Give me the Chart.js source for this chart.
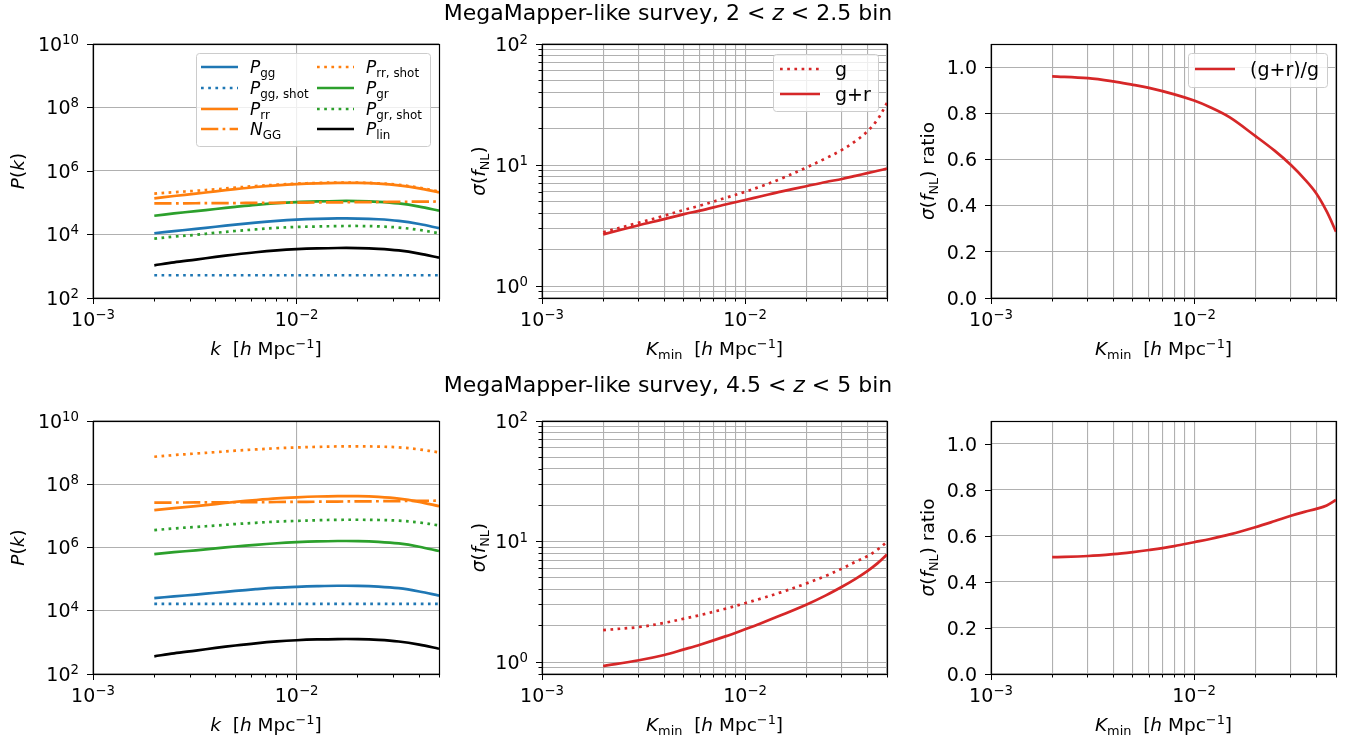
<!DOCTYPE html>
<html>
<head>
<meta charset="utf-8">
<title>MegaMapper-like survey</title>
<script src="https://cdn.jsdelivr.net/npm/chart.js@4.4.1/dist/chart.umd.min.js"></script>
<style>
  body { margin: 0; background: #fff; width: 1350px; height: 742px; position: relative; overflow: hidden; }
  canvas { position: absolute; left: 0; top: 0; }
</style>
</head>
<body>
<canvas id="pkTop" width="1350" height="742"></canvas>
<canvas id="sigTop" width="1350" height="742"></canvas>
<canvas id="ratTop" width="1350" height="742"></canvas>
<canvas id="pkBot" width="1350" height="742"></canvas>
<canvas id="sigBot" width="1350" height="742"></canvas>
<canvas id="ratBot" width="1350" height="742"></canvas>
<script>
// k grid of the power spectra panels [h/Mpc]
var kP = [0.002, 0.0025, 0.0032, 0.004, 0.005, 0.0063, 0.008, 0.01, 0.0126, 0.0159, 0.02, 0.0252, 0.0317, 0.04, 0.05];

// 2 < z < 2.5 bin
var PggTop      = [1.096e4, 1.282e4, 1.500e4, 1.754e4, 2.046e4, 2.366e4, 2.685e4, 2.931e4, 3.105e4, 3.199e4, 3.184e4, 3.020e4, 2.679e4, 2.138e4, 1.578e4];
var PggShotTop  = [520, 520, 520, 520, 520, 520, 520, 520, 520, 520, 520, 520, 520, 520, 520];
var PrrTop      = [1.380e5, 1.633e5, 1.932e5, 2.286e5, 2.698e5, 3.133e5, 3.540e5, 3.864e5, 4.093e5, 4.217e5, 4.198e5, 3.981e5, 3.532e5, 2.851e5, 2.128e5];
var NGGTop      = [9.55e4, 9.59e4, 9.66e4, 9.73e4, 9.79e4, 9.89e4, 9.98e4, 1.007e5, 1.019e5, 1.030e5, 1.042e5, 1.054e5, 1.069e5, 1.084e5, 1.096e5];
var PrrShotTop  = [1.950e5, 2.153e5, 2.377e5, 2.655e5, 2.992e5, 3.357e5, 3.707e5, 3.999e5, 4.207e5, 4.315e5, 4.295e5, 4.093e5, 3.656e5, 2.985e5, 2.254e5];
var PgrTop      = [3.890e4, 4.603e4, 5.445e4, 6.368e4, 7.430e4, 8.630e4, 9.750e4, 1.052e5, 1.102e5, 1.135e5, 1.130e5, 1.072e5, 9.506e4, 7.586e4, 5.598e4];
var PgrShotTop  = [7.41e3, 8.57e3, 9.80e3, 1.132e4, 1.291e4, 1.449e4, 1.618e4, 1.726e4, 1.786e4, 1.841e4, 1.854e4, 1.799e4, 1.652e4, 1.396e4, 1.091e4];
var PlinTop     = [1072, 1327, 1626, 1968, 2350, 2761, 3155, 3443, 3648, 3758, 3741, 3548, 3148, 2512, 1854];

// 4.5 < z < 5 bin
var PggBot      = [2.512e4, 2.838e4, 3.243e4, 3.707e4, 4.227e4, 4.797e4, 5.358e4, 5.715e4, 5.984e4, 6.166e4, 6.138e4, 5.821e4, 5.164e4, 4.074e4, 3.006e4];
var PggShotBot  = [1.66e4, 1.66e4, 1.66e4, 1.66e4, 1.66e4, 1.66e4, 1.66e4, 1.66e4, 1.66e4, 1.66e4, 1.66e4, 1.66e4, 1.66e4, 1.66e4, 1.66e4];
var PrrBot      = [1.514e7, 1.750e7, 2.046e7, 2.366e7, 2.761e7, 3.170e7, 3.581e7, 3.864e7, 4.093e7, 4.217e7, 4.198e7, 3.981e7, 3.532e7, 2.786e7, 2.032e7];
var NGGBot      = [2.630e7, 2.642e7, 2.661e7, 2.679e7, 2.698e7, 2.723e7, 2.748e7, 2.773e7, 2.805e7, 2.838e7, 2.871e7, 2.904e7, 2.944e7, 2.985e7, 3.020e7];
var PrrShotBot  = [7.413e8, 8.375e8, 9.354e8, 1.033e9, 1.151e9, 1.262e9, 1.377e9, 1.452e9, 1.521e9, 1.567e9, 1.578e9, 1.549e9, 1.472e9, 1.259e9, 1.019e9];
var PgrBot      = [6.166e5, 7.129e5, 8.147e5, 9.419e5, 1.074e6, 1.219e6, 1.361e6, 1.469e6, 1.556e6, 1.603e6, 1.596e6, 1.514e6, 1.343e6, 1.059e6, 7.727e5];
var PgrShotBot  = [3.548e6, 4.009e6, 4.477e6, 4.943e6, 5.508e6, 6.039e6, 6.592e6, 6.950e6, 7.278e6, 7.499e6, 7.551e6, 7.413e6, 7.047e6, 6.166e6, 4.989e6];
var PlinBot     = [363, 450, 551, 667, 796, 935, 1069, 1167, 1236, 1274, 1268, 1202, 1067, 851, 628];

// K_min grid of the forecast panels
var kF = [0.002, 0.003, 0.004, 0.005, 0.006, 0.008, 0.01, 0.012, 0.015, 0.02, 0.025, 0.03, 0.035, 0.04, 0.045, 0.05];
var sigGTop   = [2.79, 3.35, 3.82, 4.27, 4.63, 5.36, 6.02, 6.69, 7.72, 9.54, 11.4, 13.35, 15.8, 19.0, 23.9, 32.6];
var sigGRTop  = [2.68, 3.19, 3.58, 3.94, 4.21, 4.73, 5.15, 5.53, 6.04, 6.70, 7.26, 7.69, 8.15, 8.59, 8.98, 9.35];
var ratioTop  = [0.960, 0.952, 0.938, 0.923, 0.910, 0.882, 0.855, 0.826, 0.782, 0.702, 0.637, 0.576, 0.515, 0.453, 0.375, 0.287];
var sigGBot   = [1.85, 1.96, 2.12, 2.30, 2.46, 2.78, 3.09, 3.38, 3.80, 4.50, 5.21, 5.98, 6.81, 7.57, 8.61, 9.98];
var sigGRBot  = [0.93, 1.04, 1.15, 1.28, 1.40, 1.64, 1.88, 2.11, 2.45, 3.00, 3.59, 4.23, 4.92, 5.70, 6.64, 7.82];
var ratioBot  = [0.508, 0.513, 0.521, 0.530, 0.539, 0.556, 0.573, 0.587, 0.607, 0.638, 0.665, 0.688, 0.705, 0.718, 0.733, 0.757];

// axis ticks
var kMajor = [1e-3, 1e-2];
var kMinor = [2e-3, 3e-3, 4e-3, 5e-3, 6e-3, 7e-3, 8e-3, 9e-3, 2e-2, 3e-2, 4e-2, 5e-2];
var pMajor = [1e2, 1e4, 1e6, 1e8, 1e10];
var sigMajor = [1, 10, 100];
var sigMinor = [0.8, 0.9, 2, 3, 4, 5, 6, 7, 8, 9, 20, 30, 40, 50, 60, 70, 80, 90];
var ratioTicks = [0, 0.2, 0.4, 0.6, 0.8, 1.0];

// colours and line styles
var cBlue = '#1f77b4', cOrange = '#ff7f0e', cGreen = '#2ca02c', cRed = '#d62728';
var LW = 2.7;
var dotted = [2.7, 4.5], dashdot = [17.3, 4.3, 2.7, 4.3];

var FONT = '"DejaVu Sans", sans-serif';
var TICK = 19, LABEL = 18.5;

// rich text: list of [text, flag], flag '' normal, 'i' italic, 'b' subscript, 'p' superscript
function segFont(seg, size) {
  var f = seg[1] || '';
  var s = (f == 'b' || f == 'p') ? size * 0.7 : size;
  return (f == 'i' ? 'italic ' : '') + s.toFixed(1) + 'px ' + FONT;
}

function richWidth(ctx, segs, size) {
  var w = 0;
  for (var i = 0; i < segs.length; i++) {
    ctx.font = segFont(segs[i], size);
    w += ctx.measureText(segs[i][0]).width;
  }
  return w;
}

function drawRich(ctx, segs, x, y, size, align) {
  var w = richWidth(ctx, segs, size);
  var cx = align == 'center' ? x - w / 2 : (align == 'right' ? x - w : x);
  ctx.textAlign = 'left';
  ctx.textBaseline = 'alphabetic';
  ctx.fillStyle = '#000';
  for (var i = 0; i < segs.length; i++) {
    var f = segs[i][1];
    var dy = f == 'b' ? size * 0.2 : (f == 'p' ? -size * 0.36 : 0);
    ctx.font = segFont(segs[i], size);
    ctx.fillText(segs[i][0], cx, y + dy);
    cx += ctx.measureText(segs[i][0]).width;
  }
}

function decLabel(v) {
  var e = Math.round(Math.log10(v));
  return [['10', ''], [e < 0 ? '\u2212' + (-e) : '' + e, 'p']];
}

function numLabel(v) {
  return [[v.toFixed(1), '']];
}

function align1(p) {
  return Math.round(p - 0.5) + 0.5;
}

// ticks, tick labels, spines, axis titles, legend and figure titles
var panelDeco = {
  id: 'panelDeco',
  afterDraw: function(chart, args, o) {
    var ctx = chart.ctx, a = chart.chartArea;
    var xs = chart.scales.x, ys = chart.scales.y;
    var i, p;
    ctx.save();
    ctx.strokeStyle = '#000';
    ctx.lineWidth = 1;
    ctx.setLineDash([]);
    ctx.beginPath();
    var xt = [[o.xMajor, 6], [o.xMinor || [], 3.5]];
    xt.forEach(function(t) {
      t[0].forEach(function(v) {
        p = align1(xs.getPixelForValue(v));
        ctx.moveTo(p, a.bottom);
        ctx.lineTo(p, a.bottom + t[1]);
      });
    });
    var yt = [[o.yMajor, 6], [o.yMinor || [], 3.5]];
    yt.forEach(function(t) {
      t[0].forEach(function(v) {
        p = align1(ys.getPixelForValue(v));
        ctx.moveTo(a.left, p);
        ctx.lineTo(a.left - t[1], p);
      });
    });
    ctx.stroke();
    ctx.lineWidth = 1.2;
    ctx.strokeRect(align1(a.left), align1(a.top), Math.round(a.right - a.left), Math.round(a.bottom - a.top));

    // tick labels
    for (i = 0; i < o.xMajor.length; i++) {
      drawRich(ctx, decLabel(o.xMajor[i]), xs.getPixelForValue(o.xMajor[i]), a.bottom + 27.5, TICK, 'center');
    }
    for (i = 0; i < o.yMajor.length; i++) {
      var lab = o.yLog ? decLabel(o.yMajor[i]) : numLabel(o.yMajor[i]);
      drawRich(ctx, lab, a.left - 14, ys.getPixelForValue(o.yMajor[i]) + 6.7, TICK, 'right');
    }

    // axis titles
    drawRich(ctx, o.xTitle, (a.left + a.right) / 2, a.bottom + 57, LABEL, 'center');
    ctx.save();
    ctx.translate(a.left - o.yTitleOff, (a.top + a.bottom) / 2);
    ctx.rotate(-Math.PI / 2);
    drawRich(ctx, o.yTitle, 0, 0, LABEL, 'center');
    ctx.restore();

    // legend
    if (o.legend) {
      var L = o.legend;
      ctx.fillStyle = 'rgba(255,255,255,0.8)';
      ctx.strokeStyle = '#cccccc';
      ctx.lineWidth = 1;
      ctx.beginPath();
      if (ctx.roundRect) ctx.roundRect(L.box[0] + 0.5, L.box[1] + 0.5, L.box[2], L.box[3], 3);
      else ctx.rect(L.box[0] + 0.5, L.box[1] + 0.5, L.box[2], L.box[3]);
      ctx.fill();
      ctx.stroke();
      L.items.forEach(function(it) {
        var ds = chart.data.datasets[it[0]];
        ctx.strokeStyle = ds.borderColor;
        ctx.lineWidth = ds.borderWidth;
        ctx.setLineDash(ds.borderDash || []);
        ctx.beginPath();
        ctx.moveTo(it[1], it[2]);
        ctx.lineTo(it[1] + L.handle, it[2]);
        ctx.stroke();
        ctx.setLineDash([]);
        drawRich(ctx, ds.rich, it[1] + L.textOff, it[2] + L.size * 0.36, L.size, 'left');
      });
    }

    if (o.supTitle) {
      drawRich(ctx, o.supTitle.segs, o.supTitle.x, o.supTitle.y, 22, 'center');
    }
    ctx.restore();
  }
};

function ser(xs, ys, rich, color, dash) {
  return {
    data: xs.map(function(x, i) { return { x: x, y: ys[i] }; }),
    rich: rich,
    borderColor: color,
    borderWidth: LW,
    borderDash: dash || [],
    pointRadius: 0,
    tension: 0.35,
    fill: false
  };
}

// area = [left, top, right, bottom] of the plot box in page pixels
function makePanel(id, area, yCfg, xGrid, yGrid, datasets, deco) {
  var yScale = {
    type: yCfg.type,
    min: yCfg.min,
    max: yCfg.max,
    ticks: { display: false },
    border: { display: false },
    grid: { color: '#b0b0b0', lineWidth: 1.1, drawTicks: false },
    afterBuildTicks: function(s) { s.ticks = yGrid.map(function(v) { return { value: v }; }); },
    afterFit: function(s) { s.width = area[0]; s.paddingTop = 0; s.paddingBottom = 0; }
  };
  var xScale = {
    type: 'logarithmic',
    min: 1e-3,
    max: 0.05,
    ticks: { display: false },
    border: { display: false },
    grid: { color: '#b0b0b0', lineWidth: 1.1, drawTicks: false },
    afterBuildTicks: function(s) { s.ticks = xGrid.map(function(v) { return { value: v }; }); },
    afterFit: function(s) { s.height = 742 - area[3]; s.paddingLeft = 0; s.paddingRight = 0; }
  };
  return new Chart(document.getElementById(id), {
    type: 'line',
    data: { datasets: datasets },
    options: {
      responsive: false,
      animation: false,
      events: [],
      layout: { padding: { left: 0, top: area[1], right: 1350 - area[2], bottom: 0 } },
      plugins: { legend: { display: false }, tooltip: { enabled: false }, panelDeco: deco },
      scales: { x: xScale, y: yScale }
    },
    plugins: [panelDeco]
  });
}

var labPgg = [['P', 'i'], ['gg', 'b']];
var labPggShot = [['P', 'i'], ['gg, shot', 'b']];
var labPrr = [['P', 'i'], ['rr', 'b']];
var labNGG = [['N', 'i'], ['GG', 'b']];
var labPrrShot = [['P', 'i'], ['rr, shot', 'b']];
var labPgr = [['P', 'i'], ['gr', 'b']];
var labPgrShot = [['P', 'i'], ['gr, shot', 'b']];
var labPlin = [['P', 'i'], ['lin', 'b']];

var kTitle = [['k', 'i'], ['  [', ''], ['h', 'i'], [' Mpc', ''], ['\u22121', 'p'], [']', '']];
var KminTitle = [['K', 'i'], ['min', 'b'], ['  [', ''], ['h', 'i'], [' Mpc', ''], ['\u22121', 'p'], [']', '']];
var PkTitle = [['P', 'i'], ['(', ''], ['k', 'i'], [')', '']];
var sigTitle = [['\u03c3', 'i'], ['(', ''], ['f', 'i'], ['NL', 'b'], [')', '']];
var ratTitle = [['\u03c3', 'i'], ['(', ''], ['f', 'i'], ['NL', 'b'], [') ratio', '']];

var kAll = kMajor.concat(kMinor);
var sigAll = sigMajor.concat(sigMinor);

function pkSets(pgg, pggs, prr, ngg, prrs, pgr, pgrs, plin) {
  return [
    ser(kP, pgg, labPgg, cBlue),
    ser(kP, pggs, labPggShot, cBlue, dotted),
    ser(kP, prr, labPrr, cOrange),
    ser(kP, ngg, labNGG, cOrange, dashdot),
    ser(kP, prrs, labPrrShot, cOrange, dotted),
    ser(kP, pgr, labPgr, cGreen),
    ser(kP, pgrs, labPgrShot, cGreen, dotted),
    ser(kP, plin, labPlin, '#000000')
  ];
}

var logP = { type: 'logarithmic', min: 1e2, max: 1e10 };
var logS = { type: 'logarithmic', min: 0.8, max: 100 };
var linR = { type: 'linear', min: 0, max: 1.1 };

// top row
makePanel('pkTop', [93, 44, 439, 298], logP, kMajor, pMajor,
  pkSets(PggTop, PggShotTop, PrrTop, NGGTop, PrrShotTop, PgrTop, PgrShotTop, PlinTop), {
    xMajor: kMajor, xMinor: kMinor, yMajor: pMajor, yLog: true,
    xTitle: kTitle, yTitle: PkTitle, yTitleOff: 69,
    legend: {
      box: [196, 53, 234, 93], handle: 37, textOff: 49, size: 17,
      items: [[0, 201, 67], [1, 201, 88], [2, 201, 109], [3, 201, 129],
              [4, 317, 67], [5, 317, 88], [6, 317, 109], [7, 317, 129]]
    },
    supTitle: { segs: [['MegaMapper-like survey, 2 < ', ''], ['z', 'i'], [' < 2.5 bin', '']], x: 668, y: 20 }
  });

makePanel('sigTop', [542, 44, 887, 298], logS, kAll, sigAll,
  [ser(kF, sigGTop, [['g', '']], cRed, dotted), ser(kF, sigGRTop, [['g+r', '']], cRed)], {
    xMajor: kMajor, xMinor: kMinor, yMajor: sigMajor, yMinor: sigMinor, yLog: true,
    xTitle: KminTitle, yTitle: sigTitle, yTitleOff: 57,
    legend: { box: [773, 54, 105, 57], handle: 40, textOff: 55, size: 19, items: [[0, 780, 69], [1, 780, 94]] }
  });

makePanel('ratTop', [991, 44, 1336, 298], linR, kAll, ratioTicks,
  [ser(kF, ratioTop, [['(g+r)/g', '']], cRed)], {
    xMajor: kMajor, xMinor: kMinor, yMajor: ratioTicks, yLog: false,
    xTitle: KminTitle, yTitle: ratTitle, yTitleOff: 57,
    legend: { box: [1188, 53, 139, 34], handle: 40, textOff: 55, size: 19, items: [[0, 1195, 69]] }
  });

// bottom row
makePanel('pkBot', [93, 421, 439, 674], logP, kMajor, pMajor,
  pkSets(PggBot, PggShotBot, PrrBot, NGGBot, PrrShotBot, PgrBot, PgrShotBot, PlinBot), {
    xMajor: kMajor, xMinor: kMinor, yMajor: pMajor, yLog: true,
    xTitle: kTitle, yTitle: PkTitle, yTitleOff: 69,
    supTitle: { segs: [['MegaMapper-like survey, 4.5 < ', ''], ['z', 'i'], [' < 5 bin', '']], x: 668, y: 392 }
  });

makePanel('sigBot', [542, 421, 887, 674], logS, kAll, sigAll,
  [ser(kF, sigGBot, [['g', '']], cRed, dotted), ser(kF, sigGRBot, [['g+r', '']], cRed)], {
    xMajor: kMajor, xMinor: kMinor, yMajor: sigMajor, yMinor: sigMinor, yLog: true,
    xTitle: KminTitle, yTitle: sigTitle, yTitleOff: 57
  });

makePanel('ratBot', [991, 421, 1336, 674], linR, kAll, ratioTicks,
  [ser(kF, ratioBot, [['(g+r)/g', '']], cRed)], {
    xMajor: kMajor, xMinor: kMinor, yMajor: ratioTicks, yLog: false,
    xTitle: KminTitle, yTitle: ratTitle, yTitleOff: 57
  });
</script>
</body>
</html>
